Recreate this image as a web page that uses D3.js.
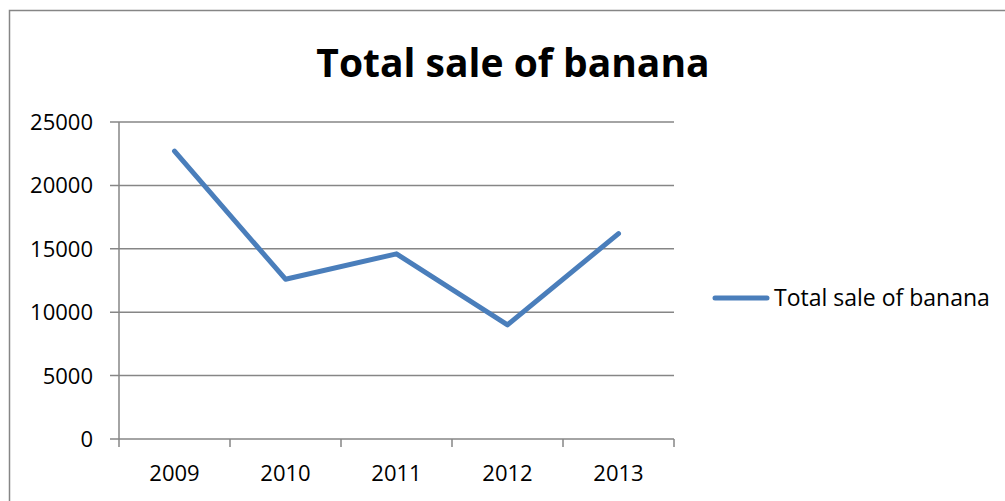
<!DOCTYPE html>
<html>
<head>
<meta charset="utf-8">
<script src="https://cdnjs.cloudflare.com/ajax/libs/d3/7.8.5/d3.min.js"></script>
<style>
  body { margin: 0; background: #fff; }
  text { font-family: "Open Sans", "Liberation Sans", sans-serif; fill: #000; }
</style>
</head>
<body>
<div id="chart"></div>
<script>
var years = ["2009", "2010", "2011", "2012", "2013"];
var sales = [22700, 12600, 14600, 9000, 16200];
var yTicks = [0, 5000, 10000, 15000, 20000, 25000];
var seriesName = "Total sale of banana";

var width = 1005, height = 501;
var plotLeft = 119, plotRight = 674, plotTop = 122, plotBottom = 439;

var svg = d3.select("#chart").append("svg")
  .attr("width", width)
  .attr("height", height);

// outer chart border (runs off the page on right and bottom)
svg.append("rect")
  .attr("x", 9.5).attr("y", 10.5)
  .attr("width", 1010).attr("height", 500)
  .attr("fill", "none")
  .attr("stroke", "#868686")
  .attr("stroke-width", 1.5);

var x = d3.scaleBand().domain(years).range([plotLeft, plotRight]);
var y = d3.scaleLinear().domain([0, 25000]).range([plotBottom, plotTop]);

// gridlines
svg.append("g").selectAll("line")
  .data(yTicks)
  .enter().append("line")
  .attr("x1", plotLeft - 9).attr("x2", plotRight)
  .attr("y1", function(d) { return y(d); })
  .attr("y2", function(d) { return y(d); })
  .attr("stroke", "#868686")
  .attr("stroke-width", 1.5);

// y axis line
svg.append("line")
  .attr("x1", plotLeft).attr("x2", plotLeft)
  .attr("y1", plotTop).attr("y2", plotBottom)
  .attr("stroke", "#868686").attr("stroke-width", 1.5);

// x category ticks
var bounds = years.map(function(d) { return x(d); }).concat([plotRight]);
svg.append("g").selectAll("line")
  .data(bounds)
  .enter().append("line")
  .attr("x1", function(d) { return d; })
  .attr("x2", function(d) { return d; })
  .attr("y1", plotBottom).attr("y2", plotBottom + 8)
  .attr("stroke", "#868686").attr("stroke-width", 1.5);

// y labels
svg.append("g").selectAll("text")
  .data(yTicks)
  .enter().append("text")
  .attr("x", 93)
  .attr("y", function(d) { return y(d) + 8; })
  .attr("text-anchor", "end")
  .attr("font-size", 22)
  .text(function(d) { return d; });

// x labels
svg.append("g").selectAll("text")
  .data(years)
  .enter().append("text")
  .attr("x", function(d) { return x(d) + x.bandwidth() / 2; })
  .attr("y", 481)
  .attr("text-anchor", "middle")
  .attr("font-size", 22)
  .text(function(d) { return d; });

// the line
var line = d3.line()
  .x(function(d, i) { return x(years[i]) + x.bandwidth() / 2; })
  .y(function(d) { return y(d); });

svg.append("path")
  .datum(sales)
  .attr("d", line)
  .attr("fill", "none")
  .attr("stroke", "#4a7ebb")
  .attr("stroke-width", 5)
  .attr("stroke-linecap", "round")
  .attr("stroke-linejoin", "round");

// title
svg.append("text")
  .attr("x", 513).attr("y", 77)
  .attr("text-anchor", "middle")
  .attr("font-size", 39)
  .attr("font-weight", "bold")
  .text(seriesName);

// legend
svg.append("line")
  .attr("x1", 715).attr("x2", 767)
  .attr("y1", 298).attr("y2", 298)
  .attr("stroke", "#4a7ebb")
  .attr("stroke-width", 5)
  .attr("stroke-linecap", "round");

svg.append("text")
  .attr("x", 774).attr("y", 306)
  .attr("font-size", 23)
  .text(seriesName);
</script>
</body>
</html>
